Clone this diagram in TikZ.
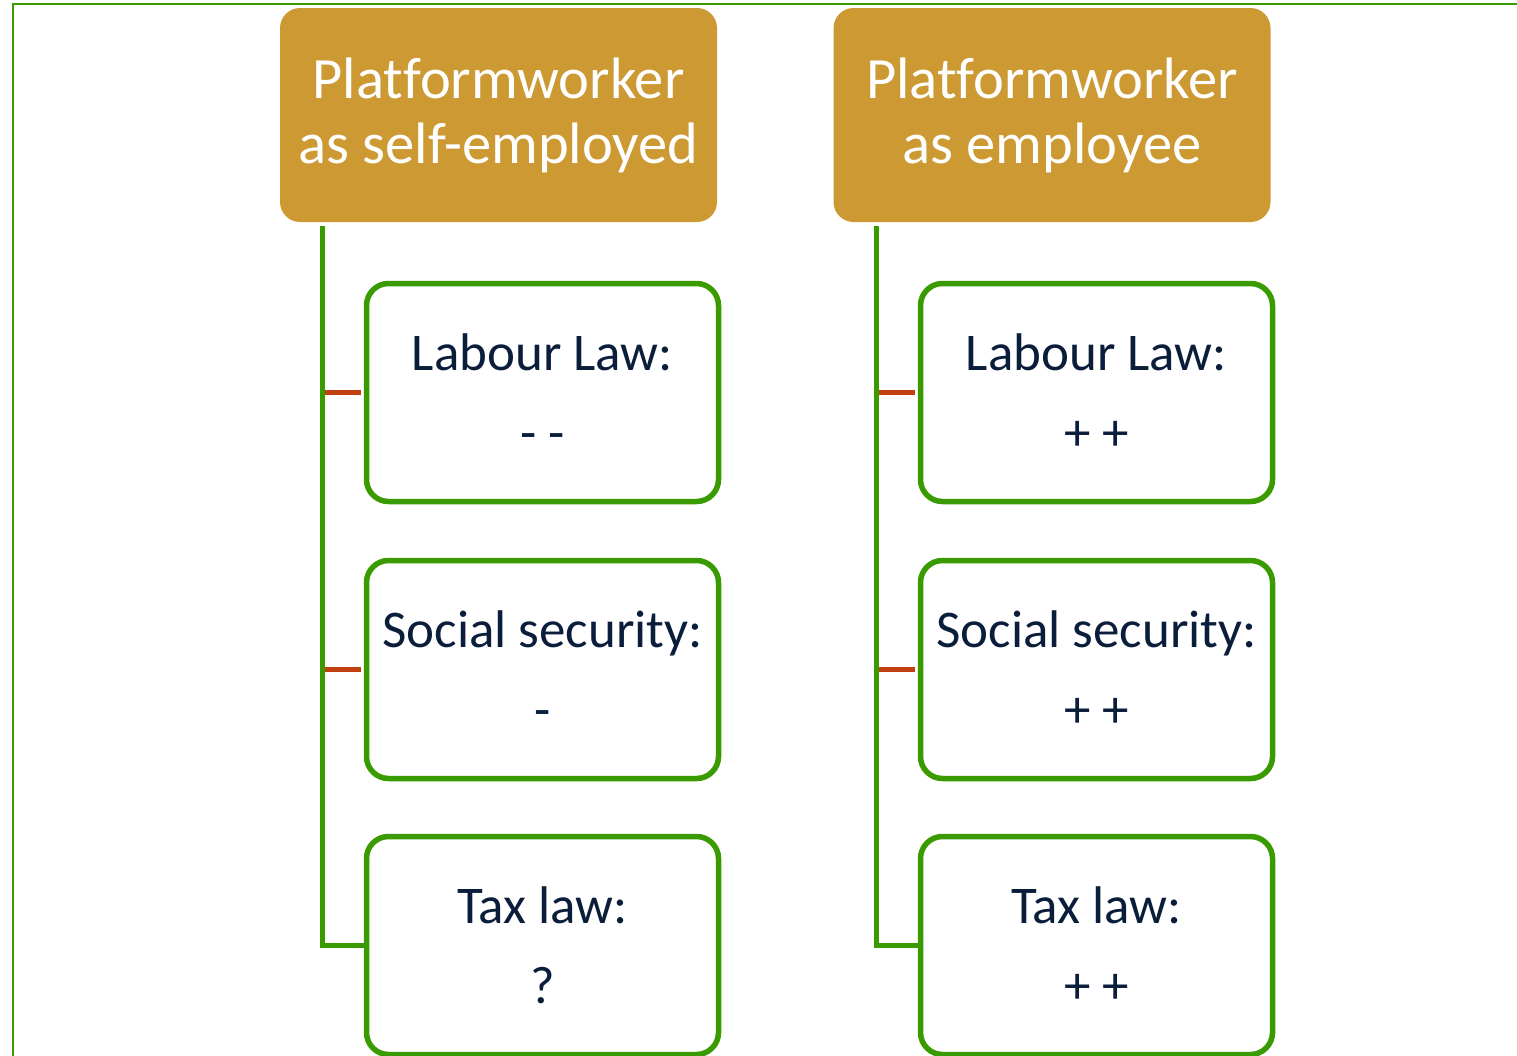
\documentclass[tikz,border=0pt]{standalone}
\usepackage{fontspec}
\setmainfont{Carlito}[Ligatures=NoCommon]
\definecolor{gold}{RGB}{204,153,51}
\definecolor{grn}{RGB}{57,155,0}
\definecolor{rd}{RGB}{192,64,16}
\definecolor{navy}{RGB}{10,30,60}
\begin{document}
\begin{tikzpicture}[x=1pt,y=-1pt,
  head/.style={fill=gold,draw=none,rounded corners=20pt,minimum width=437pt,minimum height=214pt,
    text=white,align=center,font=\fontsize{58.5}{65}\selectfont,inner sep=0pt},
  sub/.style={draw=grn,line width=5.5pt,rounded corners=22pt,fill=white,minimum width=352pt,minimum height=218pt,
    text=navy,align=center,font=\fontsize{53}{80}\selectfont,inner sep=0pt},
  trunk/.style={draw=grn,line width=5pt},
  twig/.style={draw=rd,line width=5pt}]
\useasboundingbox (0,0) rectangle (1517,1055);
\begin{scope}
\clip (0,0) rectangle (1517,1055);
\draw[grn,line width=2.2pt] (1517,4) -- (13,4) -- (13,1060);
\node[head] (h1) at (498.5,115) {Platformworker\\as self-employed};
\node[head] (h2) at (1052,115) {Platformworker\\as employee};
\node[sub] (a1) at (542.5,392.5) {Labour Law:\\- -};
\node[sub] (b1) at (542.5,669.5) {Social security:\\-};
\node[sub] (c1) at (542.5,945.5) {Tax law:\\?};
\node[sub] (a2) at (1096.5,392.5) {Labour Law:\\+ +};
\node[sub] (b2) at (1096.5,669.5) {Social security:\\+ +};
\node[sub] (c2) at (1096.5,945.5) {Tax law:\\+ +};
\coordinate (t1) at (322,226);
\coordinate (t2) at (876,226);
\draw[trunk] (t1) -- (t1 |- c1.west) -- (c1.west);
\draw[trunk] (t2) -- (t2 |- c2.west) -- (c2.west);
\draw[twig] (t1 |- a1.west) ++(2.5,0) -- ([xshift=-2.75pt]a1.west);
\draw[twig] (t1 |- b1.west) ++(2.5,0) -- ([xshift=-2.75pt]b1.west);
\draw[twig] (t2 |- a2.west) ++(2.5,0) -- ([xshift=-2.75pt]a2.west);
\draw[twig] (t2 |- b2.west) ++(2.5,0) -- ([xshift=-2.75pt]b2.west);
\end{scope}
\end{tikzpicture}
\end{document}
